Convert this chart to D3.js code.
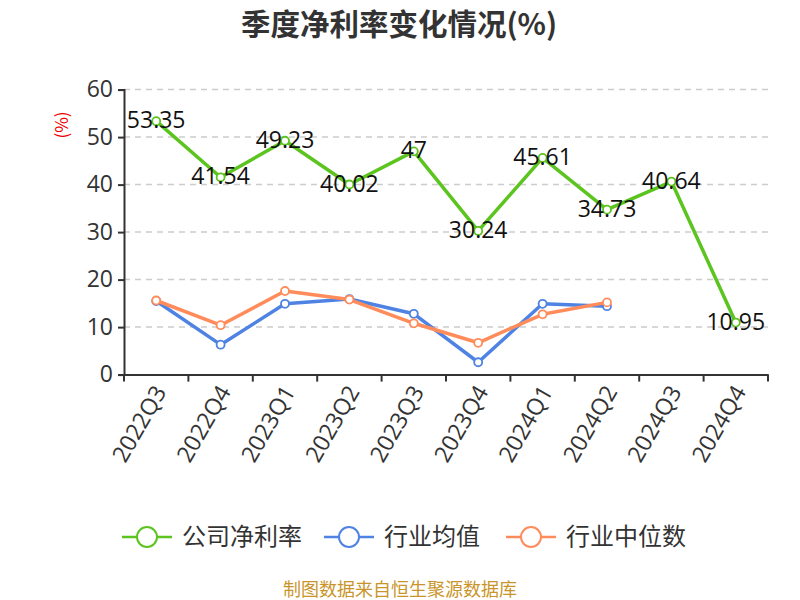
<!DOCTYPE html>
<html>
<head>
<meta charset="utf-8">
<script src="https://cdn.jsdelivr.net/npm/d3@7"></script>
<style>
  body { margin: 0; background: #fff; }
  text { font-family: "Noto Sans CJK SC", "Noto Sans", sans-serif; }
</style>
</head>
<body>
<script>
var quarters = ["2022Q3", "2022Q4", "2023Q1", "2023Q2", "2023Q3", "2023Q4", "2024Q1", "2024Q2", "2024Q3", "2024Q4"];
var company = [53.35, 41.54, 49.23, 40.02, 47, 30.24, 45.61, 34.73, 40.64, 10.95];
var industryAvg = [15.5, 6.3, 14.9, 15.9, 12.8, 2.6, 14.9, 14.4, null, null];
var industryMed = [15.6, 10.4, 17.6, 15.8, 10.8, 6.7, 12.7, 15.2, null, null];
var yTicks = [0, 10, 20, 30, 40, 50, 60];
var seriesNames = ["公司净利率", "行业均值", "行业中位数"];
var colors = ["#5bc41f", "#4f83e3", "#ff8c5a"];

function main(){
  var width = 800, height = 600;
  var svg = d3.select("body").append("svg")
    .attr("width", width)
    .attr("height", height);

  var x = d3.scaleBand().domain(quarters).range([124, 768]);
  var y = d3.scaleLinear().domain([0, 60]).range([374.6, 89.6]);

  // title
  svg.append("text")
    .attr("x", 399).attr("y", 35)
    .attr("text-anchor", "middle")
    .attr("font-size", 29.5).attr("font-weight", "bold")
    .attr("fill", "#333")
    .text("季度净利率变化情况(%)");

  // unit label
  svg.append("text")
    .attr("transform", "translate(68,125) rotate(-90)")
    .attr("text-anchor", "middle")
    .attr("font-size", 17).attr("fill", "#e00")
    .text("(%)");

  // grid
  svg.append("g").selectAll("line")
    .data(yTicks.filter(d => d > 0))
    .enter().append("line")
    .attr("x1", 124).attr("x2", 768)
    .attr("y1", d => y(d)).attr("y2", d => y(d))
    .attr("stroke", "#ccc").attr("stroke-width", 1.5)
    .attr("stroke-dasharray", "6,5");

  // y axis
  var yAxis = svg.append("g")
    .attr("transform", "translate(124,0)")
    .call(d3.axisLeft(y).tickValues(yTicks).tickSize(6).tickPadding(5));
  yAxis.select(".domain").attr("stroke", "#333").attr("stroke-width", 2);
  yAxis.selectAll(".tick line").attr("stroke", "#333").attr("stroke-width", 2);
  yAxis.selectAll("text").attr("font-size", 23).attr("fill", "#333")
    .style("font-family", "'Open Sans', 'Noto Sans', sans-serif");

  // x axis
  var xAxis = svg.append("g")
    .attr("transform", "translate(0," + y(0) + ")")
    .call(d3.axisBottom(x).tickSize(0).tickPadding(0));
  xAxis.select(".domain").attr("stroke", "#333").attr("stroke-width", 2);
  xAxis.selectAll(".tick text")
    .attr("font-size", 23).attr("fill", "#333")
    .style("font-family", "'Open Sans', 'Noto Sans', sans-serif")
    .attr("text-anchor", "end")
    .attr("dy", "0.35em")
    .attr("transform", "translate(4,13) rotate(-60)");
  // band boundary ticks
  var bounds = quarters.map(q => x(q)).concat([x.range()[1]]);
  xAxis.append("g").selectAll("line")
    .data(bounds).enter().append("line")
    .attr("x1", d => d).attr("x2", d => d)
    .attr("y1", 0).attr("y2", 7)
    .attr("stroke", "#333").attr("stroke-width", 2);

  var cx = d => x(d) + x.bandwidth() / 2;
  var allSeries = [company, industryAvg, industryMed];

  // draw order: industry avg, median, then company on top
  [1, 2, 0].forEach(function(si){
    var vals = allSeries[si];
    var pts = quarters.map((q, i) => ({q: q, v: vals[i]})).filter(d => d.v != null);
    var line = d3.line().x(d => cx(d.q)).y(d => y(d.v));
    svg.append("path")
      .datum(pts)
      .attr("d", line)
      .attr("fill", "none")
      .attr("stroke", colors[si])
      .attr("stroke-width", 3.5)
      .attr("stroke-linejoin", "round");
    svg.append("g").selectAll("circle")
      .data(pts).enter().append("circle")
      .attr("cx", d => cx(d.q)).attr("cy", d => y(d.v))
      .attr("r", 4)
      .attr("fill", "#fff")
      .attr("stroke", colors[si]).attr("stroke-width", 1.8);
  });

  // company labels
  svg.append("g").selectAll("text")
    .data(quarters.map((q, i) => ({q: q, v: company[i]})))
    .enter().append("text")
    .attr("x", d => cx(d.q)).attr("y", d => y(d.v) - 1)
    .attr("dy", "0.35em")
    .attr("text-anchor", "middle")
    .attr("font-size", 23).attr("fill", "#111")
    .style("font-family", "'Open Sans', 'Noto Sans', sans-serif")
    .text(d => d.v);

  // legend
  var legendX = [122, 324, 506];
  var legend = svg.append("g").selectAll("g")
    .data(seriesNames).enter().append("g")
    .attr("transform", (d, i) => "translate(" + legendX[i] + ",537)");
  legend.append("line")
    .attr("x1", 0).attr("x2", 50)
    .attr("stroke", (d, i) => colors[i]).attr("stroke-width", 2.5);
  legend.append("circle")
    .attr("cx", 25).attr("r", 10)
    .attr("fill", "#fff")
    .attr("stroke", (d, i) => colors[i]).attr("stroke-width", 2);
  legend.append("text")
    .attr("x", 60).attr("dy", "0.35em")
    .attr("font-size", 24).attr("fill", "#333")
    .text(d => d);

  // source
  svg.append("text")
    .attr("x", 400).attr("y", 596)
    .attr("text-anchor", "middle")
    .attr("font-size", 18).attr("fill", "#c9952b")
    .text("制图数据来自恒生聚源数据库");
}

main();
</script>
</body>
</html>
